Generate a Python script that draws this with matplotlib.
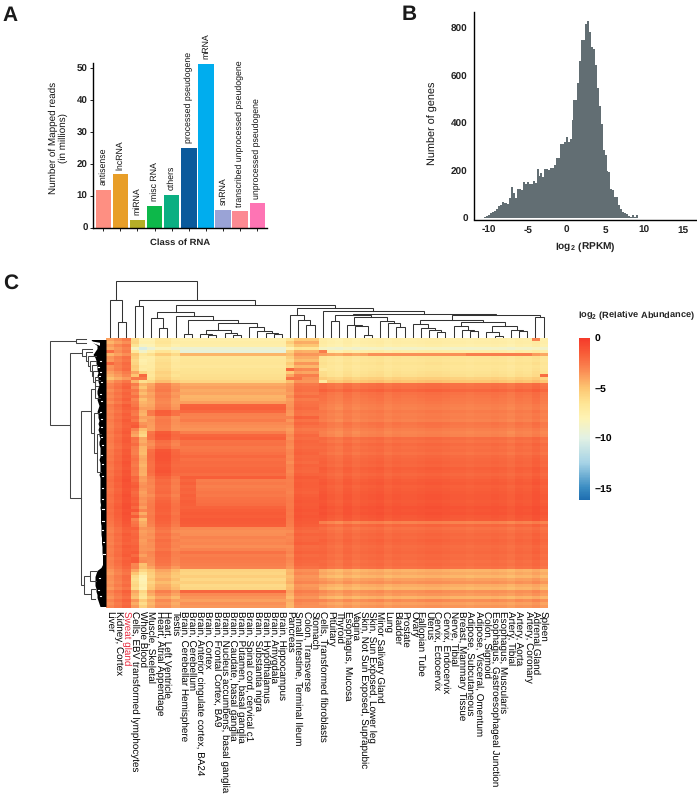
import numpy as np
import matplotlib
matplotlib.use('Agg')
import matplotlib.pyplot as plt
from matplotlib.colors import LinearSegmentedColormap, Normalize
from matplotlib.cm import ScalarMappable

plt.rcParams['font.family'] = ['Liberation Sans', 'DejaVu Sans']
plt.rcParams['mathtext.fontset'] = 'custom'
plt.rcParams['mathtext.rm'] = 'Liberation Sans'
plt.rcParams['mathtext.bf'] = 'Liberation Sans:bold'
plt.rcParams['mathtext.default'] = 'regular'
plt.rcParams['text.hinting'] = 'no_hinting'

# Panel A
rna_classes = ['antisense', 'lncRNA', 'miRNA', 'misc RNA', 'others', 'processed pseudogene', 'mRNA',
               'snRNA', 'transcribed unprocessed pseudogene', 'unprocessed pseudogene']
rna_reads = [11.7, 16.7, 2.5, 6.7, 10.2, 25.0, 51.2, 5.6, 5.1, 7.6]
rna_colors = ['#FE8F82', '#E89E28', '#B5AE27', '#0DB84A', '#0BAF82', '#0A5A9C', '#00ADEE',
              '#9AA3D6', '#FC8A92', '#FE74B4']

# Panel B, bins are 0.25 wide
hist_centers = np.arange(-11, 15.75, 0.25)
hist_counts = [0, 2, 5, 8, 14, 22, 25, 30, 38, 50, 55, 70, 65, 65, 62, 85, 130, 105, 85, 122,
               122, 118, 153, 146, 155, 143, 146, 158, 148, 207, 178, 190, 175, 208, 207, 205, 210, 212, 225, 253,
               256, 315, 315, 320, 344, 322, 336, 414, 498, 498, 568, 662, 750, 750, 818, 832, 783, 722, 713, 645,
               547, 473, 397, 288, 267, 200, 196, 122, 119, 91, 88, 56, 38, 28, 21, 18, 10, 6, 14, 7,
               14, 1, 2, 1, 1, 2, 1, 2, 1, 1, 2, 1, 1, 2, 3, 2, 3, 2, 2, 3, 2, 1, 2, 1, 1, 0, 0]

# Panel C columns
tissues = ['Liver', 'Kidney, Cortex', 'Sweat gland', 'Cells, EBV transformed lymphocytes', 'Whole Blood',
           'Muscle, Skeletal', 'Heart, Atrial Appendage', 'Heart, Left Ventricle', 'Testis',
           'Brain, Cerebellar Hemisphere', 'Brain, Cerebellum', 'Brain, Anterior cingulate cortex, BA24',
           'Brain, Cortex', 'Brain, Frontal Cortex, BA9', 'Brain, Nucleus accumbens, basal ganglia',
           'Brain, Caudate, basal ganglia', 'Brain, Putamen, basal ganglia', 'Brain, Spinal cord, cervical c1',
           'Brain, Substantia nigra', 'Brain, Hypothalamus', 'Brain, Amygdala', 'Brain, Hippocampus',
           'Pancreas', 'Small Intestine, Terminal Ileum', 'Colon, Transverse', 'Stomach',
           'Cells, Transformed fibroblasts', 'Pituitary', 'Thyroid', 'Esophagus, Mucosa', 'Vagina',
           'Skin, Not Sun Exposed, Suprapubic', 'Skin, Sun Exposed, Lower leg', 'Minor Salivary Gland', 'Lung',
           'Bladder', 'Prostate', 'Ovary', 'Fallopian Tube', 'Uterus', 'Cervix, Ectocervix', 'Cervix, Endocervix',
           'Nerve, Tibial', 'Breast, Mammary Tissue', 'Adipose, Subcutaneous', 'Adipose, Visceral, Omentum',
           'Colon, Sigmoid', 'Esophagus, Gastroesophageal Junction', 'Esophagus, Muscularis', 'Artery, Tibial',
           'Artery, Aorta', 'Artery, Coronary', 'Adrenal Gland', 'Spleen']

# row levels read per tissue group, top row first
first_rows = [-3.2, -3.8, -3.0, -3.5, -3.2, -3.8, -2.8, -3.0, -2.6, -2.8,
              -2.6, -3.2, -3.6, -4.2, -3.0, -2.4, -2.2, -2.6, -2.3, -2.5,
              -2.2, -2.6, -2.0, -2.2, -2.4, -2.1, -2.3, -2.0, -2.2, -2.3,
              -2.1, -1.9, -2.2, -2.0, -1.9, -2.1, -2.2, -1.9, -2.0, -1.8,
              -1.9, -1.7, -1.8, -1.9, -1.7, -1.8, -1.6, -1.5, -1.7, -1.6,
              -1.8, -1.7, -1.5, -1.6, -1.7, -1.5, -1.4, -1.6, -1.5, -1.6,
              -1.7, -1.8, -1.9, -2.2, -2.3, -2.0, -2.2, -2.1, -2.3, -2.0,
              -2.2, -2.1, -2.0, -2.3, -2.1, -2.2, -2.4, -2.8, -3.0, -2.6,
              -2.7, -2.9, -2.6, -3.0, -2.2, -2.5, -2.8, -2.3, -2.6, -2.4]
blood_rows = [-6.5, -6.3, -7.0, -9.0, -7.5, -5.5, -6.0, -6.4, -6.2, -5.8,
              -6.0, -4.5, -5.5, -3.5, -5.0, -3.2, -3.8, -3.0, -3.5, -2.8,
              -3.6, -3.2, -3.0, -2.5, -3.0, -3.2, -2.6, -3.0, -2.2, -1.9,
              -3.5, -4.2, -4.6, -2.8, -3.0, -2.6, -3.2, -3.3, -3.4, -3.0,
              -2.8, -3.0, -3.2, -2.9, -3.0, -3.1, -2.4, -2.6, -2.2, -2.0,
              -2.3, -2.6, -2.4, -2.1, -2.3, -2.0, -2.5, -1.8, -3.0, -2.0,
              -3.5, -3.0, -2.8, -2.2, -2.6, -2.4, -2.3, -2.5, -2.4, -2.2,
              -2.3, -2.0, -2.6, -2.0, -1.9, -3.6, -3.5, -4.5, -5.5, -6.5,
              -6.8, -6.5, -6.2, -6.6, -4.5, -5.0, -5.4, -4.0, -4.8, -4.2]
muscle_rows = [-7.0, -6.8, -7.2, -8.5, -6.8, -5.5, -6.6, -6.5, -6.3, -6.4,
               -6.2, -5.8, -6.0, -5.6, -5.0, -3.2, -3.0, -2.8, -3.2, -3.0,
               -3.3, -3.4, -3.2, -3.0, -1.8, -1.9, -3.0, -2.8, -2.9, -3.0,
               -3.1, -1.7, -1.5, -1.6, -2.4, -2.6, -2.3, -1.5, -1.4, -1.3,
               -1.4, -1.5, -1.6, -1.5, -1.4, -1.6, -2.0, -2.3, -2.2, -2.4,
               -2.3, -2.2, -2.5, -2.2, -2.0, -1.9, -1.8, -1.9, -2.0, -1.8,
               -1.9, -2.0, -2.2, -2.6, -2.8, -2.5, -2.7, -2.4, -2.6, -2.5,
               -2.7, -2.3, -2.4, -2.5, -2.6, -2.7, -3.2, -4.2, -4.6, -4.8,
               -4.4, -4.9, -4.5, -4.3, -3.0, -3.5, -4.2, -3.4, -3.8, -3.5]
brain_rows = [-7.6, -7.4, -7.5, -9.3, -9.5, -4.5, -6.8, -6.7, -6.6, -6.8,
              -6.5, -6.4, -6.3, -6.2, -5.8, -4.2, -3.9, -4.2, -4.0, -4.5,
              -4.4, -3.8, -1.8, -1.7, -2.0, -2.9, -3.0, -2.7, -3.2, -3.3,
              -3.5, -2.8, -1.9, -1.7, -2.4, -2.3, -2.6, -2.5, -2.3, -2.0,
              -2.3, -2.1, -2.2, -2.0, -1.9, -2.2, -1.6, -2.8, -2.6, -2.9,
              -2.7, -2.5, -2.6, -2.4, -2.3, -2.2, -1.8, -1.6, -1.5, -1.6,
              -1.4, -1.5, -1.6, -3.2, -3.4, -3.3, -3.0, -3.2, -3.1, -3.3,
              -3.0, -2.4, -2.8, -2.6, -2.7, -2.8, -3.0, -5.6, -5.8, -5.4,
              -5.9, -5.5, -6.0, -5.8, -1.9, -3.2, -3.5, -3.9, -3.4, -3.6]
cerebellum_rows_47_55 = [-1.9, -1.7, -2.0, -1.8, -1.9, -1.7, -1.8, -1.6, -1.7]
gut_rows = [-5.5, -4.5, -5.2, -6.8, -4.6, -3.8, -4.5, -5.0, -4.2, -4.8,
            -3.4, -4.2, -3.0, -3.6, -3.8, -2.8, -2.6, -2.5, -2.8, -2.4,
            -2.9, -2.6, -2.5, -2.3, -2.6, -2.7, -2.0, -2.6, -2.2, -2.5,
            -2.8, -2.6, -2.2, -2.4, -2.1, -2.2, -2.3, -2.1, -2.0, -2.2,
            -2.1, -2.3, -2.0, -2.1, -2.2, -2.0, -1.7, -1.9, -1.8, -1.8,
            -1.9, -2.0, -1.8, -1.7, -1.6, -1.7, -1.6, -1.5, -1.6, -1.5,
            -1.6, -1.7, -1.8, -2.1, -2.3, -2.0, -2.2, -2.1, -1.9, -2.3,
            -2.2, -2.0, -2.3, -2.1, -2.2, -2.3, -2.6, -3.6, -3.4, -3.8,
            -3.6, -3.3, -3.9, -3.7, -3.0, -3.4, -3.8, -3.2, -3.5, -3.6]
other_rows = [-7.5, -7.4, -7.6, -8.8, -7.5, -4.0, -6.6, -6.7, -6.5, -6.7,
              -6.6, -6.4, -6.3, -5.6, -5.0, -2.4, -2.3, -1.9, -2.4, -2.5,
              -2.6, -2.7, -2.9, -3.0, -2.7, -2.9, -2.8, -3.0, -2.5, -2.6,
              -2.9, -3.1, -3.0, -2.2, -2.4, -2.1, -2.3, -2.2, -2.4, -2.1,
              -2.0, -1.9, -2.0, -1.7, -1.8, -2.0, -1.8, -1.6, -1.5, -1.7,
              -1.6, -1.5, -1.4, -1.4, -1.5, -1.4, -1.2, -1.3, -1.2, -1.4,
              -1.5, -3.0, -2.0, -2.4, -2.2, -2.0, -2.1, -1.9, -2.0, -2.2,
              -2.1, -2.0, -2.2, -2.1, -2.3, -2.2, -2.4, -4.5, -4.2, -4.6,
              -3.9, -3.5, -4.3, -4.6, -3.4, -3.7, -4.5, -3.3, -3.9, -3.6]
col_offset = [-0.7, -0.1, 0.5, 0.5, -1.3, -0.8, 0.2, 0.2, -0.5,
              0.0, 0.0, 0.0, 0.0, 0.0, 0.0, 0.0, 0.0, 0.0, 0.0, 0.0, 0.0, 0.0,
              -1.0, 0.3, 0.2, 0.2,
              0.2, -0.1, -0.3, 0.1, -0.2, 0.0, 0.1, 0.2, -0.1, 0.1,
              0.0, 0.0, 0.1, 0.2, 0.2, 0.1, 0.0, 0.0, -0.1, 0.0,
              0.0, 0.1, 0.0, -0.2, 0.1, 0.0, 0.3, -0.1]
# single stripes: row, first column, end column, value
accents = [(4, 26, 27, -2.8), (8, 23, 26, -3.6), (10, 22, 23, -2.0), (13, 22, 24, -2.4), (13, 3, 5, -2.6),
           (12, 4, 5, -2.0), (5, 32, 44, -3.4), (5, 44, 52, -2.8), (0, 52, 53, -3.0), (12, 53, 54, -2.2),
           (14, 26, 27, -7.0), (10, 26, 27, -7.0), (8, 0, 1, -2.0), (4, 0, 1, -2.2)]

# column tree: left child, right child, height. ids from 54 are earlier merges
col_merges = [(1, 2, 16), (0, 54, 37.7), (3, 4, 31.7), (6, 7, 10), (5, 57, 20), (9, 10, 4), (12, 13, 3.3),
              (11, 60, 4.3), (15, 16, 3), (14, 62, 5), (61, 63, 8.3), (20, 21, 4), (19, 65, 5.5), (18, 66, 6.7),
              (17, 67, 11), (64, 68, 14.7), (59, 69, 17.7), (8, 70, 21.7), (58, 71, 26), (24, 25, 13.3),
              (23, 73, 17.7), (22, 74, 22.7), (27, 28, 17.3), (31, 32, 3), (30, 77, 11.7), (29, 78, 12.7),
              (35, 36, 11), (34, 80, 15), (33, 81, 17.3), (79, 82, 21), (76, 83, 23), (40, 41, 5.7), (39, 85, 8.3),
              (38, 86, 10), (37, 87, 14), (44, 45, 7.3), (43, 89, 8.3), (42, 90, 11.7), (47, 48, 2.3), (46, 92, 6),
              (50, 51, 6.7), (49, 94, 8.3), (93, 95, 12.3), (91, 96, 16), (88, 97, 17.7), (52, 53, 21),
              (98, 99, 22.7), (84, 100, 24), (26, 101, 26.7), (75, 102, 30), (72, 103, 33), (56, 104, 38.3),
              (55, 105, 57)]

# row tree: branch ends (row position, depth), then merges with ids following the ends
row_leaf_pos = [0.2, 1.7, 3.7, 4.7, 6, 7.5, 9, 11, 13, 16, 14, 20, 25, 32, 44.6, 77.5, 81, 83.5, 87]
row_leaf_depth = [20, 20, 14, 14, 10, 10, 9, 9, 8, 8, 6, 6, 6, 5, 5, 10, 10, 11, 11]
row_merges = [(0, 1, 30.3), (8, 9, 11.5), (7, 20, 13), (6, 21, 14.5), (5, 22, 16), (4, 23, 18), (3, 24, 20),
              (2, 25, 24.3), (10, 11, 11), (13, 14, 9.5), (12, 28, 12), (27, 29, 15.3), (15, 16, 16), (17, 18, 15),
              (31, 32, 22), (30, 33, 25), (26, 34, 36), (19, 35, 56)]
# black comb next to the heatmap, depth per row
comb_depth = [15, 13, 9, 9, 11, 13, 11, 10, 10, 9,
              9, 8, 9, 8, 8, 7, 8, 9, 9, 8,
              9, 8, 7, 8, 9, 8, 8, 7, 8, 7,
              8, 7, 7, 6, 7, 7, 6, 6, 6, 6,
              7, 6, 6, 6, 6, 7, 6, 6, 6, 6,
              6, 6, 6, 6, 6, 5.5, 6, 5.5, 5.5, 5.5,
              5.5, 5.5, 5, 5, 5, 5, 4.5, 4.5, 4.5, 4,
              4, 4, 3.5, 3.5, 3.5, 3.5, 5, 9, 10, 11,
              11, 11, 11, 10, 10, 9, 9, 8, 7, 6]
speck_rows = [7.5, 9.5, 11.2, 12.5, 14.5, 18.5, 21, 24.5, 27, 29.5, 33, 35.5, 39, 42, 46, 50, 53.5, 57, 61, 64, 68, 72, 80, 84, 86]
speck_depths = [5, 7, 5, 6, 4, 5, 4, 5, 4, 4, 4, 3, 4, 3, 3, 3, 3, 2.5, 2.5, 3, 2, 1.5, 6, 7, 5]

cbar_ticks = [0, -5, -10, -15]
cbar_labels = ['0', '\u22125', '\u221210', '\u221215']

W, H = 697, 797
fig = plt.figure(figsize=(W / 100, H / 100), dpi=100)


def px_axes(x0, y0, x1, y1):
    return fig.add_axes([x0 / W, 1 - y1 / H, (x1 - x0) / W, (y1 - y0) / H])


def px_text(x, y, s, **kw):
    fig.text(x / W, 1 - y / H, s, **kw)


for letter, lx, ly in [('A', 2, 21), ('B', 402, 20), ('C', 3, 289)]:
    px_text(lx, ly, letter, fontsize=15, fontweight='bold', va='baseline', color='#1a1a1a')

# A
ax_a = px_axes(92.5, 63, 267, 228)
ax_a.bar(range(len(rna_reads)), rna_reads, width=0.9, color=rna_colors)
for i, (name, val) in enumerate(zip(rna_classes, rna_reads)):
    ax_a.annotate(name, (i, val), xytext=(0, 3.5), textcoords='offset points', rotation=90,
                  ha='center', va='bottom', fontsize=6.3, color='#111111', annotation_clip=False)
ax_a.set_xlim(-0.63, 9.57)
ax_a.set_ylim(-0.1, 51.6)
ax_a.set_xticks(range(10))
ax_a.set_xticklabels([])
ax_a.set_yticks([0, 10, 20, 30, 40, 50])
ax_a.tick_params(length=2, width=0.7, labelsize=7, pad=1.5, color='#222222')
for t in ax_a.get_yticklabels():
    t.set_fontweight('bold')
    t.set_color('#222222')
for s in ['top', 'right']:
    ax_a.spines[s].set_visible(False)
for s in ['left', 'bottom']:
    ax_a.spines[s].set_linewidth(1.0)
px_text(180, 243, 'Class of RNA', fontsize=6.8, fontweight='bold', ha='center', va='center', color='#222222')
px_text(58.5, 138, 'Number of Mapped reads\n(in millions)', fontsize=7.1, rotation=90, ha='center', va='center',
        color='#111111', linespacing=1.05, multialignment='center')

# B
ax_b = px_axes(474, 12, 697, 219.5)
ax_b.bar(hist_centers, hist_counts, width=0.25, color='#626E73', linewidth=0)
ax_b.set_xlim(-11.93, 16.77)
ax_b.set_ylim(-5, 869)
ax_b.set_xticks([-10, -5, 0, 5, 10, 15])
ax_b.set_xticklabels(['-10', '-5', '0', '5', '10', '15'])
ax_b.set_yticks([0, 200, 400, 600, 800])
ax_b.tick_params(length=0, labelsize=7.2, pad=4.5)
for t in ax_b.get_xticklabels() + ax_b.get_yticklabels():
    t.set_fontweight('bold')
    t.set_color('#222222')
for s in ['top', 'right']:
    ax_b.spines[s].set_visible(False)
for s in ['left', 'bottom']:
    ax_b.spines[s].set_linewidth(1.0)
px_text(585, 247, r'$\mathbf{log_2\ (RPKM)}$', fontsize=7.3, ha='center', va='center', color='#222222')
px_text(433, 123, 'Number of genes', fontsize=7.8, rotation=90, ha='center', va='center', color='#111111')

# C heatmap
groups = [(first_rows, 0, 3), (blood_rows, 3, 5), (muscle_rows, 5, 9), (brain_rows, 9, 22),
          (gut_rows, 22, 26), (other_rows, 26, 54)]
abundance = np.zeros((len(brain_rows), len(tissues)))
for rows, start, stop in groups:
    abundance[:, start:stop] = np.array(rows)[:, None]
abundance[47:56, 9:11] = np.array(cerebellum_rows_47_55)[:, None]
abundance += np.array(col_offset)
for row, c0, c1, val in accents:
    abundance[row, c0:c1] = val

cmap = LinearSegmentedColormap.from_list('abund', [
    (0.0, '#1F6EB0'), (1.2 / 16.2, '#3A8CC2'), (3.7 / 16.2, '#A6D3E6'), (6.2 / 16.2, '#E2F1E4'),
    (8.2 / 16.2, '#FEF3B4'), (9.7 / 16.2, '#FEE594'), (11.2 / 16.2, '#FDC672'), (13.2 / 16.2, '#FA8450'),
    (14.7 / 16.2, '#F85C38'), (1.0, '#F53A2A')])
norm = Normalize(-16.2, 0)

ax_h = px_axes(106, 338, 547.7, 608)
ax_h.imshow(abundance, aspect='auto', cmap=cmap, norm=norm, interpolation='nearest',
            extent=(0, len(tissues), len(brain_rows), 0))
ax_h.set_yticks([])
ax_h.set_xticks(np.arange(len(tissues)) + 0.5)
ax_h.set_xticklabels(tissues, rotation=270, ha='center', va='top', fontsize=7.1, color='#000000')
ax_h.get_xticklabels()[2].set_color('#E8283C')
ax_h.tick_params(axis='x', length=0, pad=2.5)
for s in ax_h.spines.values():
    s.set_visible(False)

# C column tree
ax_top = px_axes(106, 278, 547.7, 338)
ax_top.set_xlim(0, len(tissues))
ax_top.set_ylim(0, 60)
ax_top.axis('off')
col_nodes = [(i + 0.5, 0) for i in range(len(tissues))]
for a, b, h in col_merges:
    xa, ha = col_nodes[a]
    xb, hb = col_nodes[b]
    ax_top.plot([xa, xa, xb, xb], [ha, h, h, hb], color='#333333', lw=0.75, solid_joinstyle='miter')
    col_nodes.append(((xa + xb) / 2, h))

# C row tree
ax_left = px_axes(45, 338, 106, 608)
ax_left.set_xlim(61, 0)
ax_left.set_ylim(len(comb_depth), 0)
ax_left.axis('off')
comb_y = np.arange(len(comb_depth)) + 0.5
ax_left.fill_betweenx(comb_y, comb_depth, 0, color='black', lw=0)
for r, d in zip(speck_rows, speck_depths):
    ax_left.plot([d, d + 1.2], [r, r], color='white', lw=0.8)
ax_left.fill([20, 6, 6], [0.8, 1.6, 2.6], color='white', lw=0)
row_nodes = list(zip(row_leaf_pos, row_leaf_depth))
for a, b, d in row_merges:
    ra, da = row_nodes[a]
    rb, db = row_nodes[b]
    ax_left.plot([da, d, d, db], [ra, ra, rb, rb], color='#444444', lw=0.75, solid_joinstyle='miter')
    row_nodes.append(((ra + rb) / 2, d))

# C colour bar
ax_c = px_axes(579.3, 338, 590, 500)
cb = fig.colorbar(ScalarMappable(norm=norm, cmap=cmap), cax=ax_c)
cb.set_ticks(cbar_ticks)
cb.set_ticklabels(cbar_labels)
cb.outline.set_visible(False)
ax_c.tick_params(length=0, labelsize=7.5, pad=3.5)
for t in ax_c.get_yticklabels():
    t.set_fontweight('bold')
px_text(578, 316, r'$\mathbf{log_2\ (Relative\ Abundance)}$', fontsize=6.7, ha='left', va='center', color='#222222')

fig.savefig('out.png', dpi=100)
